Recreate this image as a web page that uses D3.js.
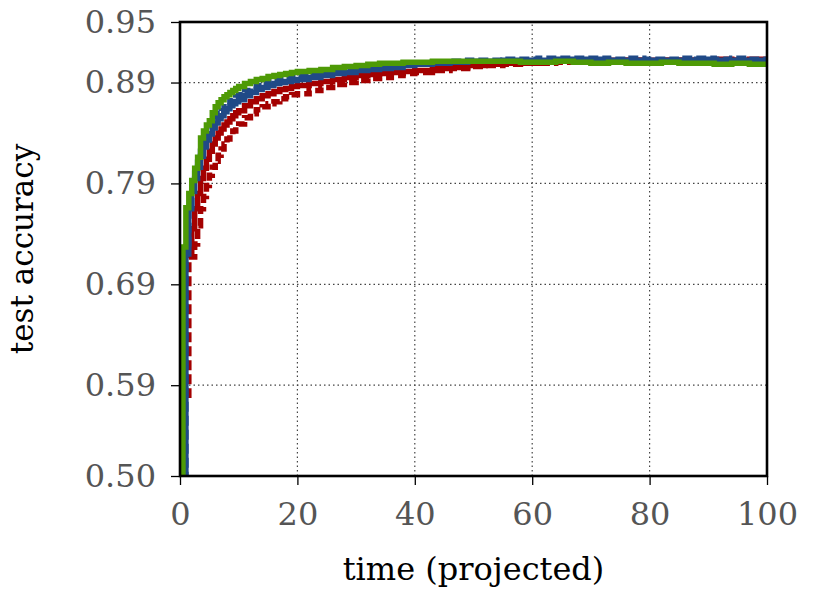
<!DOCTYPE html>
<html><head><meta charset="utf-8">
<script src="https://cdn.jsdelivr.net/npm/d3@7"></script>
<style>body{margin:0;background:#fff}svg{display:block}</style>
</head><body>
<svg id="c" width="830" height="595"></svg>
<script>
const times = [0,0.5,1,1.5,2,2.5,3,3.5,4,4.5,5,5.5,6,6.5,7,7.5,8,8.5,9,9.5,10,11,12,13,14,15,16,17,18,19,20,22,24,26,28,30,32,34,36,38,40,43,46,49,52,55,58,61,64,67,70,73,76,79,82,85,88,91,94,97,100];
const greenSolid = [0.5,0.727,0.766,0.78,0.793,0.805,0.816,0.835,0.842,0.848,0.852,0.86,0.866,0.87,0.873,0.876,0.878,0.880,0.882,0.884,0.886,0.889,0.891,0.893,0.894,0.896,0.897,0.898,0.899,0.900,0.901,0.902,0.903,0.905,0.906,0.907,0.908,0.909,0.909,0.910,0.910,0.911,0.911,0.911,0.911,0.911,0.910,0.910,0.911,0.910,0.909,0.910,0.909,0.909,0.910,0.909,0.909,0.908,0.909,0.908,0.909];
const blueSolid = [0.5,0.5,0.72,0.765,0.782,0.795,0.806,0.817,0.826,0.833,0.839,0.845,0.850,0.854,0.857,0.861,0.864,0.867,0.869,0.871,0.873,0.877,0.880,0.883,0.885,0.887,0.889,0.890,0.891,0.892,0.893,0.895,0.897,0.899,0.900,0.902,0.903,0.904,0.905,0.907,0.908,0.909,0.910,0.911,0.911,0.912,0.912,0.912,0.913,0.913,0.913,0.912,0.912,0.912,0.912,0.912,0.913,0.912,0.912,0.912,0.912];
const blueDashed = [0.5,0.5,0.73,0.768,0.787,0.80,0.811,0.822,0.831,0.838,0.844,0.850,0.855,0.859,0.862,0.866,0.869,0.872,0.874,0.876,0.878,0.882,0.885,0.887,0.889,0.891,0.892,0.893,0.894,0.895,0.896,0.898,0.900,0.902,0.903,0.905,0.906,0.907,0.908,0.909,0.909,0.910,0.911,0.912,0.912,0.913,0.913,0.914,0.914,0.914,0.914,0.913,0.914,0.913,0.913,0.914,0.914,0.913,0.914,0.913,0.914];
const redSolid = [0.5,0.72,0.72,0.72,0.745,0.765,0.78,0.795,0.805,0.814,0.822,0.829,0.835,0.840,0.844,0.848,0.851,0.854,0.857,0.860,0.862,0.867,0.871,0.874,0.877,0.879,0.881,0.883,0.884,0.886,0.887,0.889,0.891,0.893,0.895,0.897,0.898,0.899,0.900,0.901,0.902,0.904,0.905,0.907,0.908,0.909,0.909,0.910,0.911,0.911,0.911,0.912,0.912,0.911,0.912,0.912,0.912,0.913,0.912,0.913,0.913];
const redDashed = [null,null,0.58,0.717,0.717,0.73,0.748,0.765,0.777,0.788,0.798,0.806,0.812,0.818,0.824,0.829,0.834,0.838,0.842,0.846,0.849,0.855,0.859,0.863,0.866,0.869,0.871,0.874,0.876,0.878,0.879,0.882,0.885,0.888,0.890,0.892,0.894,0.895,0.897,0.899,0.900,0.902,0.904,0.906,0.907,0.908,0.909,0.909,0.910,0.911,0.911,0.911,0.912,0.912,0.912,0.912,0.912,0.912,0.912,0.912,0.912];
const xTicks = [0,20,40,60,80,100];
const yTicks = [0.50,0.59,0.69,0.79,0.89,0.95];
const xGrid = [20,40,60,80];
const yGrid = [0.59,0.69,0.79,0.89];

const series = [
  {v: redDashed, color: "#a40000", dash: "10,4"},
  {v: redSolid, color: "#a40000", dash: null},
  {v: blueDashed, color: "#204a87", dash: "10,4"},
  {v: blueSolid, color: "#204a87", dash: null},
  {v: greenSolid, color: "#4e9a06", dash: null}
];

const svg = d3.select("#c");
const x = d3.scaleLinear().domain([0,100]).range([180,767]);
const y = d3.scaleLinear().domain([0.5,0.95]).range([476,22]);
const font = "'DejaVu Serif', serif";

// grid
svg.append("g").selectAll("line").data(xGrid).join("line")
  .attr("x1", d=>x(d)).attr("x2", d=>x(d)).attr("y1", y(0.5)).attr("y2", y(0.95))
  .attr("stroke","#444").attr("stroke-width",1.2).attr("stroke-dasharray","1.5,3");
svg.append("g").selectAll("line").data(yGrid).join("line")
  .attr("x1", x(0)).attr("x2", x(100)).attr("y1", d=>y(d)).attr("y2", d=>y(d))
  .attr("stroke","#444").attr("stroke-width",1.2).attr("stroke-dasharray","1.5,3");

// lines
svg.append("clipPath").attr("id","pc").append("rect")
  .attr("x",x(0)).attr("y",y(0.95)).attr("width",x(100)-x(0)).attr("height",y(0.5)-y(0.95));
const gl = svg.append("g").attr("clip-path","url(#pc)");
series.forEach(s=>{
  const pts = times.map((t,i)=>[t,s.v[i]]);
  const line = d3.line().defined(d=>d[1]!=null).x(d=>x(d[0])).y(d=>y(d[1])).curve(d3.curveStepAfter);
  gl.append("path").attr("d", line(pts)).attr("fill","none")
    .attr("stroke", s.color).attr("stroke-width",5.5)
    .attr("stroke-dasharray", s.dash);
});

// axes
const xa = svg.append("g").attr("transform",`translate(0,${y(0.5)})`)
  .call(d3.axisBottom(x).tickValues(xTicks).tickSize(9).tickPadding(17).tickFormat(d3.format("d")));
const ya = svg.append("g").attr("transform",`translate(${x(0)},0)`)
  .call(d3.axisLeft(y).tickValues(yTicks).tickSize(9).tickPadding(15).tickFormat(d3.format(".2f")));
[xa,ya].forEach(a=>{
  a.select(".domain").remove();
  a.selectAll(".tick line").attr("stroke","#000").attr("stroke-width",1.3);
  a.selectAll(".tick text").attr("fill","#555").style("font-family",font).style("font-size","32px");
});

// frame
svg.append("rect").attr("x",x(0)).attr("y",y(0.95)).attr("width",x(100)-x(0)).attr("height",y(0.5)-y(0.95))
  .attr("fill","none").attr("stroke","#000").attr("stroke-width",2.6);

svg.append("text").attr("x",(x(0)+x(100))/2).attr("y",580).attr("text-anchor","middle")
  .style("font-family",font).style("font-size","32px").attr("fill","#000").text("time (projected)");
svg.append("text").attr("transform",`translate(33,${(y(0.5)+y(0.95))/2}) rotate(-90)`).attr("text-anchor","middle")
  .style("font-family",font).style("font-size","31px").attr("fill","#000").text("test accuracy");
</script>
</body></html>
